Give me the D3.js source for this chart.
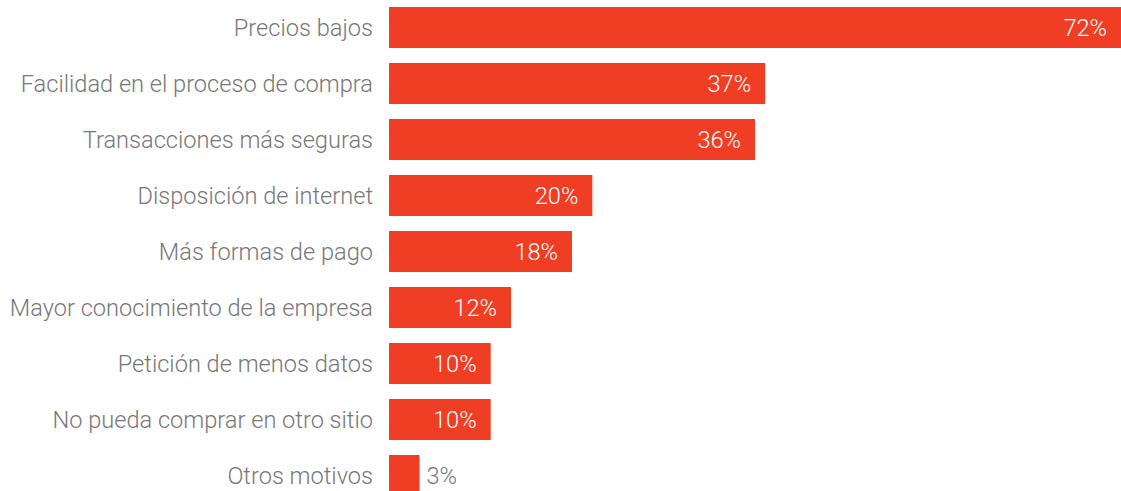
<!DOCTYPE html>
<html>
<head>
<meta charset="utf-8">
<script src="https://cdn.jsdelivr.net/npm/d3@7"></script>
<style>
  html, body { margin: 0; padding: 0; background: #fff; }
  svg { display: block; }
  text { font-family: Roboto, "Liberation Sans", sans-serif; font-weight: 300; }
</style>
</head>
<body>
<svg id="chart" width="1121" height="491"></svg>
<script>
// Motivos de compra (porcentaje de respuestas)
const categories = [
  "Precios bajos",
  "Facilidad en el proceso de compra",
  "Transacciones más seguras",
  "Disposición de internet",
  "Más formas de pago",
  "Mayor conocimiento de la empresa",
  "Petición de menos datos",
  "No pueda comprar en otro sitio",
  "Otros motivos"
];
const values = [72, 37, 36, 20, 18, 12, 10, 10, 3];

const width = 1121, height = 491;
const left = 389;
const step = 56, barH = 41;
const pInner = (step - barH) / step;
const fontSize = 23.6;

const svg = d3.select("#chart");

const x = d3.scaleLinear()
  .domain([0, d3.max(values)])
  .range([left, width]);

const y = d3.scaleBand()
  .domain(categories)
  .range([7 - (step - barH) / 2, 7 - (step - barH) / 2 + step * categories.length])
  .paddingInner(pInner)
  .paddingOuter(pInner / 2);

const data = categories.map((c, i) => ({ c, v: values[i] }));

svg.append("g").selectAll("rect")
  .data(data)
  .join("rect")
  .attr("x", x(0))
  .attr("y", d => y(d.c))
  .attr("width", d => x(d.v) - x(0))
  .attr("height", y.bandwidth())
  .attr("fill", "#ef3e23");

// Category labels on the left
svg.append("g").selectAll("text")
  .data(data)
  .join("text")
  .attr("x", x(0) - 16)
  .attr("y", d => y(d.c) + y.bandwidth() / 2)
  .attr("dy", "0.36em")
  .attr("text-anchor", "end")
  .attr("font-size", fontSize)
  .attr("fill", "#777")
  .text(d => d.c);

// Value labels: inside the bar when it fits, otherwise just after it
const fmt = v => v + "%";
svg.append("g").selectAll("text")
  .data(data)
  .join("text")
  .attr("x", d => d.v >= 8 ? x(d.v) - 14 : x(d.v) + 7)
  .attr("y", d => y(d.c) + y.bandwidth() / 2)
  .attr("dy", "0.36em")
  .attr("text-anchor", d => d.v >= 8 ? "end" : "start")
  .attr("font-size", fontSize)
  .attr("fill", d => d.v >= 8 ? "#fff" : "#777")
  .text(d => fmt(d.v));
</script>
</body>
</html>
